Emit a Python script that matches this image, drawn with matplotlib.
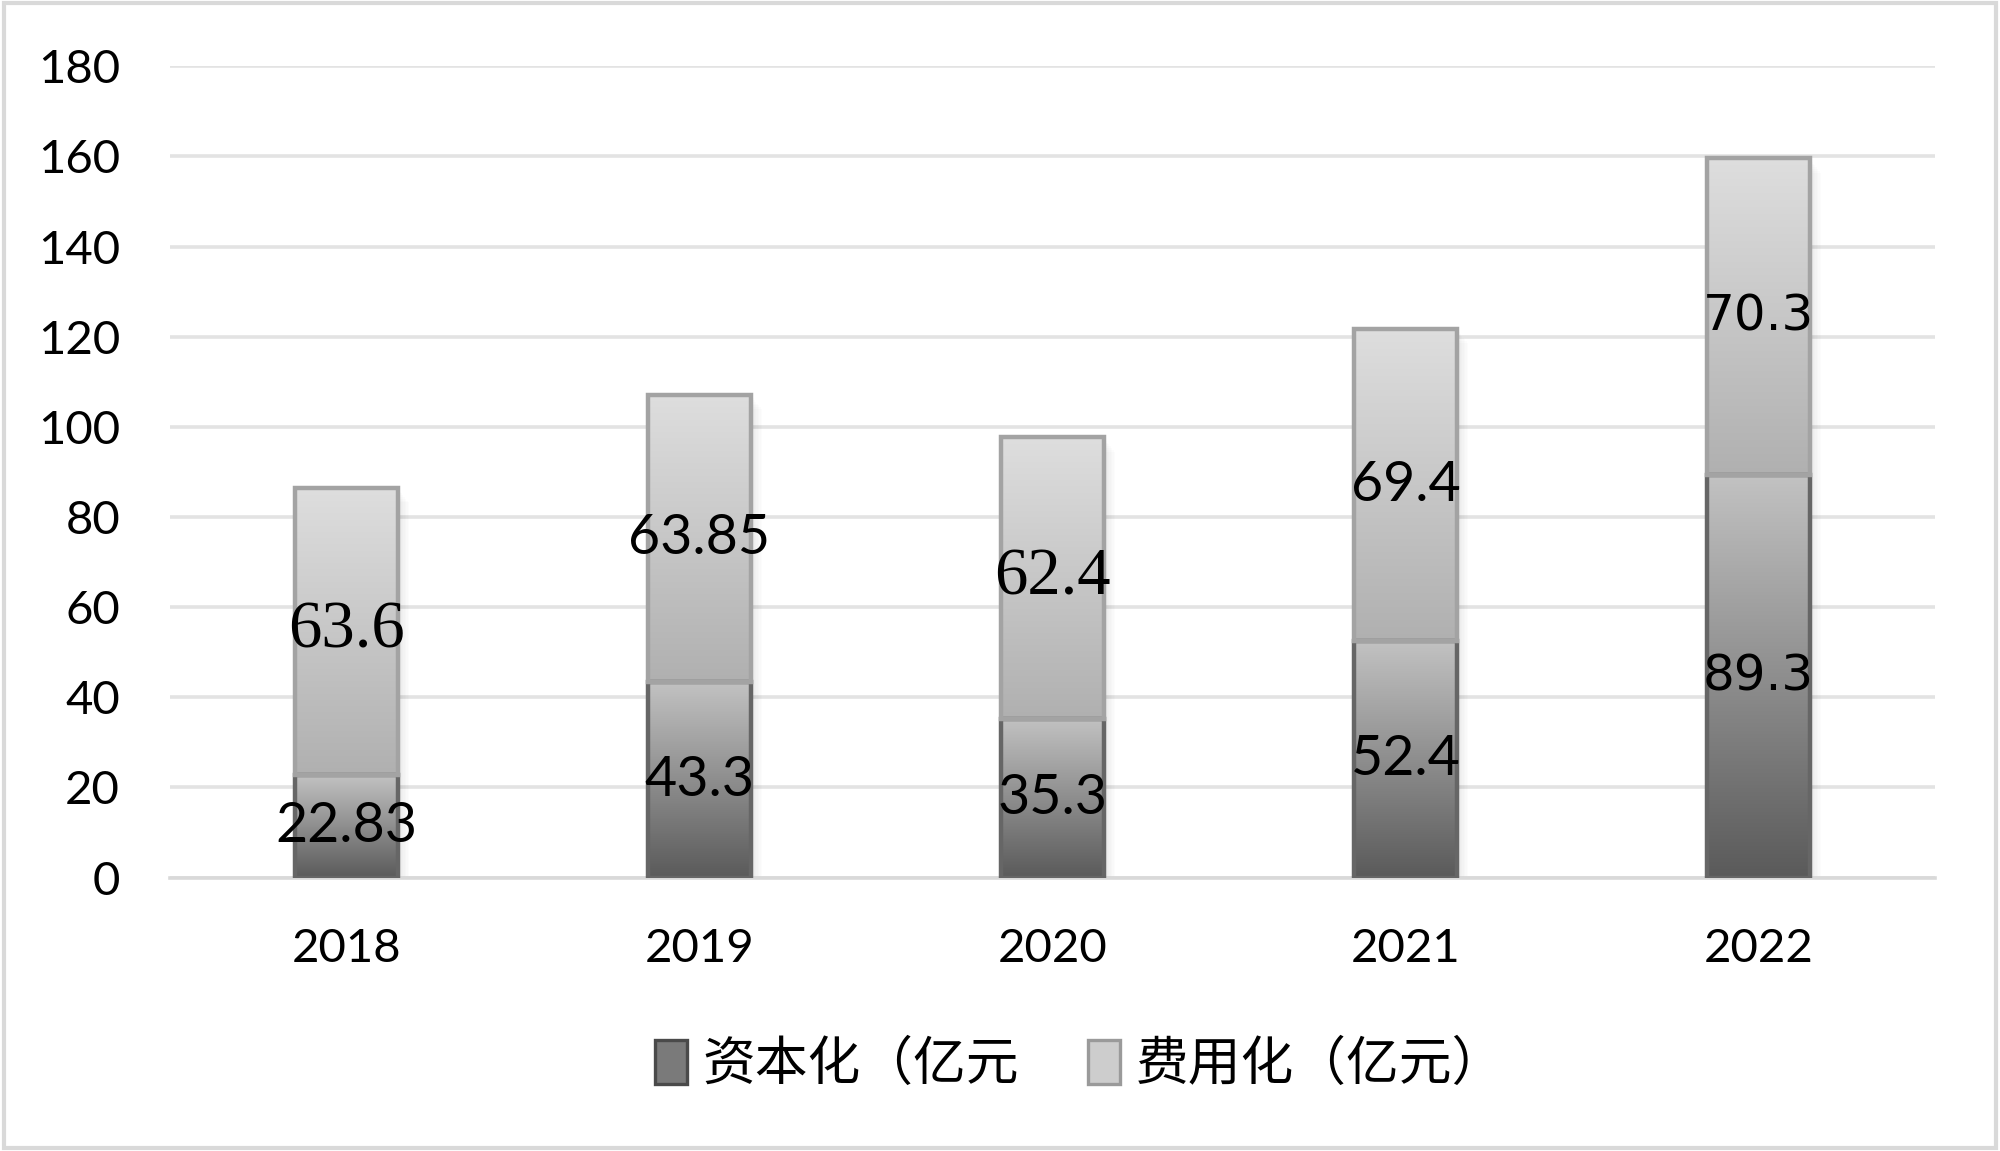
import matplotlib
matplotlib.use("Agg")
import matplotlib.pyplot as plt
import numpy as np
from matplotlib.colors import LinearSegmentedColormap
from matplotlib.patches import Patch, Rectangle

years = ["2018", "2019", "2020", "2021", "2022"]
capitalized = [22.83, 43.3, 35.3, 52.4, 89.3]
expensed = [63.6, 63.85, 62.4, 69.4, 70.3]
cap_labels = ["22.83", "43.3", "35.3", "52.4", "89.3"]
exp_labels = ["63.6", "63.85", "62.4", "69.4", "70.3"]
legend_names = ["资本化（亿元", "费用化（亿元）"]
yticks = [0, 20, 40, 60, 80, 100, 120, 140, 160, 180]

plt.rcParams['font.family'] = ['Lato', 'DejaVu Sans']

fig = plt.figure(figsize=(10, 5.755), dpi=200)
ax = fig.add_axes([0.085, 0.2375, 0.8825, 0.7049])

x = np.arange(len(years))
width = 0.29

cap_cmap = LinearSegmentedColormap.from_list("cap", ["#5a5a5a", "#c2c2c2"])
exp_cmap = LinearSegmentedColormap.from_list("exp", ["#b0b0b0", "#dedede"])
grad = np.linspace(0, 1, 256).reshape(-1, 1)

bars_cap = ax.bar(x, capitalized, width, facecolor='none', edgecolor='#666666', linewidth=1.6, zorder=4)
bars_exp = ax.bar(x, expensed, width, bottom=capitalized, facecolor='none', edgecolor='#a3a3a3', linewidth=1.6, zorder=4)

# soft shadow
for bc, be in zip(bars_cap, bars_exp):
    x0 = bc.get_x()
    w = bc.get_width()
    top = be.get_y() + be.get_height()
    for k in range(1, 9):
        ax.add_patch(Rectangle((x0 + 0.004 * k, -0.4 * k), w, top, facecolor='#000000',
                               alpha=0.012, edgecolor='none', zorder=2))

for bars, cmap in ((bars_cap, cap_cmap), (bars_exp, exp_cmap)):
    for p in bars:
        x0, y0, w, h = p.get_x(), p.get_y(), p.get_width(), p.get_height()
        im = ax.imshow(grad, extent=[x0, x0 + w, y0, y0 + h], origin='lower', cmap=cmap,
                       aspect='auto', zorder=3, interpolation='bicubic')
        im.set_clip_path(p)

# labels
serif_set = {"63.6", "62.4"}
verd_set = {"70.3", "89.3"}
def fam(t):
    if t in serif_set:
        return ['Liberation Serif']
    if t in verd_set:
        return ['DejaVu Sans']
    return ['Lato']

def fsize(t):
    if t in serif_set:
        return 24
    if t in verd_set:
        return 18
    return 20

for i in range(len(years)):
    yc = capitalized[i] / 2
    ye = capitalized[i] + expensed[i] / 2
    t1 = cap_labels[i]
    t2 = exp_labels[i]
    ax.text(x[i], yc, t1, ha='center', va='center', fontsize=fsize(t1),
            family=fam(t1), color='black', zorder=6)
    ax.text(x[i], ye, t2, ha='center', va='center', fontsize=fsize(t2),
            family=fam(t2), color='black', zorder=6)

ax.set_xlim(-0.5, 4.5)
ax.set_ylim(0, 180)
ax.set_yticks(yticks)
ax.set_yticklabels([str(v) for v in yticks], fontsize=17)
ax.set_xticks(x)
ax.set_xticklabels(years, fontsize=17)
ax.tick_params(axis='both', length=0)
ax.tick_params(axis='y', pad=18)
ax.tick_params(axis='x', pad=18)
ax.grid(axis='y', color='#e3e3e3', linewidth=1.3, zorder=0)
ax.set_axisbelow(True)
for s in ['top', 'right', 'left']:
    ax.spines[s].set_visible(False)
ax.spines['bottom'].set_color('#d9d9d9')
ax.spines['bottom'].set_linewidth(1.3)

handles = [Patch(facecolor='#7a7a7a', edgecolor='#4a4a4a', linewidth=1.2),
           Patch(facecolor='#cdcdcd', edgecolor='#9a9a9a', linewidth=1.2)]
fig.legend(handles, legend_names, loc='center', bbox_to_anchor=(0.540, 0.075), ncol=2,
           frameon=False, prop={'family': ['Noto Sans CJK SC'], 'size': 19},
           handlelength=0.6, handleheight=0.9, handletextpad=0.3, columnspacing=1.3)

fig.patches.append(Rectangle((0.002, 0.003), 0.996, 0.994, transform=fig.transFigure,
                             facecolor='none', edgecolor='#d9d9d9', linewidth=1.5))

fig.savefig("out.png", dpi=200, facecolor='white')
